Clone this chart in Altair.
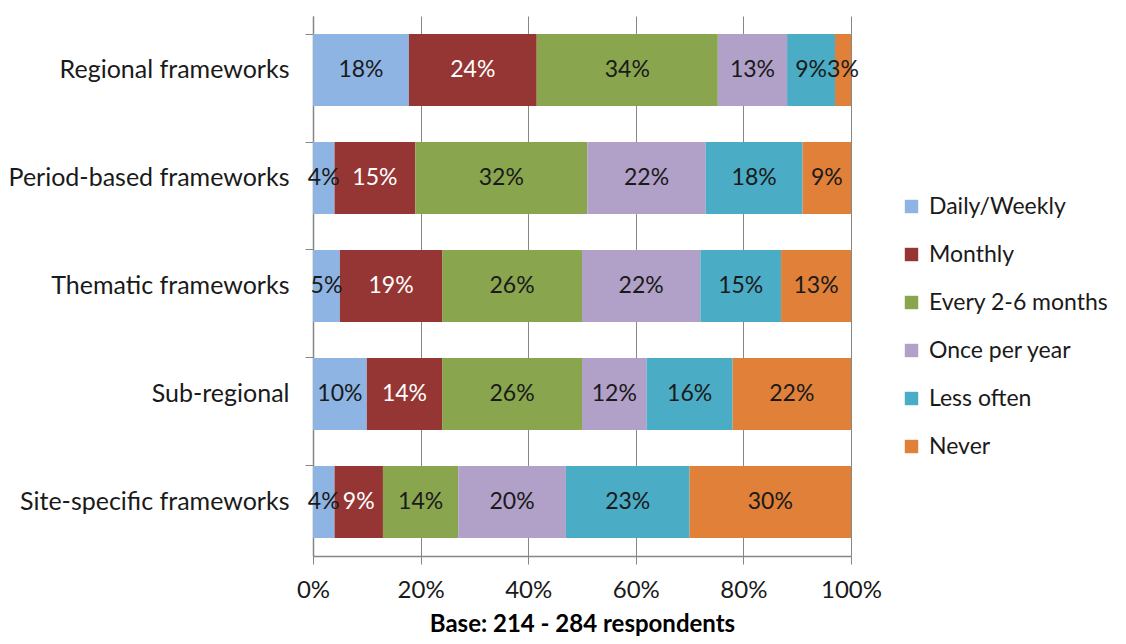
import altair as alt
import pandas as pd

categories = ["Regional frameworks", "Period-based frameworks", "Thematic frameworks",
              "Sub-regional", "Site-specific frameworks"]
series = ["Daily/Weekly", "Monthly", "Every 2-6 months", "Once per year", "Less often", "Never"]
colors = ["#8EB4E3", "#963634", "#89A54E", "#B1A0C7", "#4BACC6", "#E08039"]

daily_weekly = [18, 4, 5, 10, 4]
monthly = [24, 15, 19, 14, 9]
every_2_6 = [34, 32, 26, 26, 14]
once_per_year = [13, 22, 22, 12, 20]
less_often = [9, 18, 15, 16, 23]
never = [3, 9, 13, 22, 30]

values = [daily_weekly, monthly, every_2_6, once_per_year, less_often, never]
rows = []
for si, s in enumerate(series):
    for ci, c in enumerate(categories):
        rows.append({"category": c, "series": s, "order": si, "value": values[si][ci],
                     "label": f"{values[si][ci]}%"})
df = pd.DataFrame(rows)

FONT = "Lato"
AX = "#868686"
TXT = "#1a1a1a"
FS = 23

base = alt.Chart(df).transform_stack(
    stack="value", groupby=["category"], as_=["x0", "x1"],
    sort=[alt.SortField("order", order="ascending")], offset="normalize"
).transform_calculate(mid="(datum.x0 + datum.x1) / 2")

yscale = alt.Scale(paddingInner=0.3333, paddingOuter=0.1667)

bars = base.mark_bar().encode(
    x=alt.X("x0:Q", scale=alt.Scale(domain=[0, 1], nice=False),
            title="Base: 214 - 284 respondents",
            axis=alt.Axis(format=".0%", values=[0, 0.2, 0.4, 0.6, 0.8, 1.0],
                          labelFont=FONT, labelFontSize=24, labelColor=TXT, labelFlush=False,
                          tickSize=8, tickColor=AX, domainColor=AX, labelPadding=14,
                          grid=True, gridColor=AX, gridOpacity=1,
                          titleFont=FONT, titleFontSize=24, titleFontWeight="bold",
                          titleColor="#000000", titlePadding=10)),
    x2="x1:Q",
    y=alt.Y("category:N", sort=categories, title=None, scale=yscale,
            axis=alt.Axis(labels=False, ticks=True, tickSize=8, tickColor=AX,
                          bandPosition=0, domainColor=AX, grid=False, orient="left")),
    color=alt.Color("series:N", sort=series,
                    scale=alt.Scale(domain=series, range=colors),
                    legend=alt.Legend(title=None, orient="none", legendX=587, legendY=179,
                                      symbolType="square", symbolSize=180,
                                      symbolStrokeWidth=0, labelFont=FONT,
                                      labelFontSize=23, labelColor=TXT, labelLimit=400,
                                      rowPadding=24, labelOffset=6)),
    order=alt.Order("order:Q"),
)

texts = base.mark_text(font=FONT, fontSize=FS, baseline="middle", align="center").encode(
    x=alt.X("mid:Q"),
    y=alt.Y("category:N", sort=categories, title=None, scale=yscale,
            axis=alt.Axis(labelFont=FONT, labelFontSize=25, labelColor=TXT,
                          ticks=False, domain=False, labelPadding=24, grid=False,
                          labelLimit=400, orient="left")),
    text="label:N",
    color=alt.condition(alt.datum.series == "Monthly", alt.value("#ffffff"), alt.value(TXT)),
)

chart = alt.layer(bars, texts).resolve_axis(y="independent").properties(
    width=538, height=540,
    autosize=alt.AutoSizeParams(type="none"),
    padding={"left": 305, "top": 8, "right": 267, "bottom": 80},
).configure_view(stroke=None).configure_axis(domainWidth=1.5)

chart.save("out.html", embed_options={"renderer": "svg", "actions": False})
